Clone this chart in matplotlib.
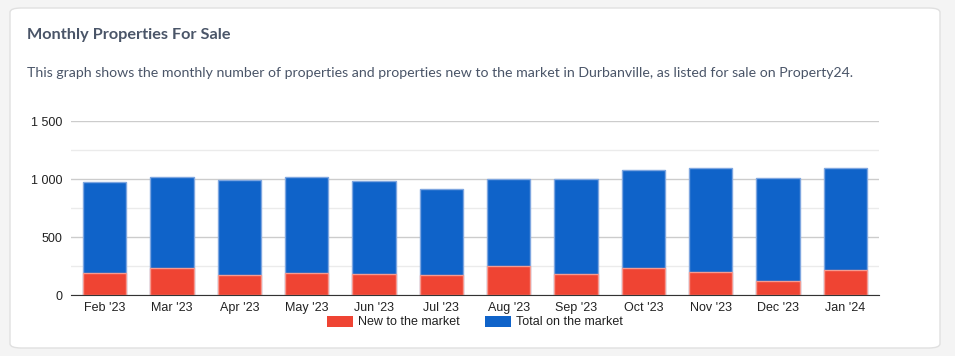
import matplotlib.pyplot as plt
from matplotlib.patches import FancyBboxPatch, Patch
from matplotlib.ticker import FixedLocator, FuncFormatter

# Data
months = ["Feb '23", "Mar '23", "Apr '23", "May '23", "Jun '23", "Jul '23",
          "Aug '23", "Sep '23", "Oct '23", "Nov '23", "Dec '23", "Jan '24"]
total_on_market = [973, 1013, 990, 1013, 982, 918, 996, 996, 1074, 1091, 1005, 1091]
new_to_market = [187, 230, 170, 193, 178, 170, 248, 178, 230, 196, 118, 213]

blue = '#0f63c9'
red = '#ef4433'
W, H = 955, 356

fig = plt.figure(figsize=(W / 100, H / 100), dpi=100)
fig.patch.set_facecolor('#f4f4f4')

# card
card = FancyBboxPatch((10 / W, 8 / H), 930 / W, 340 / H,
                      boxstyle='round,pad=0,rounding_size=0.012',
                      transform=fig.transFigure, facecolor='white',
                      edgecolor='#e0e0e0', linewidth=1, zorder=-10)
fig.patches.append(card)

fig.text(27 / W, 1 - 35 / H, 'Monthly Properties For Sale', fontsize=11.7,
         fontweight='bold', color='#4a5568', family='Lato', va='center')
fig.text(27 / W, 1 - 73 / H,
         'This graph shows the monthly number of properties and properties new to the market '
         'in Durbanville, as listed for sale on Property24.',
         fontsize=10.2, color='#4a5568', family='Lato', va='center')

ax = fig.add_axes([71 / W, 61 / H, 808 / W, 174 / H])
ax.set_facecolor('none')
x = range(len(months))
ax.bar(x, total_on_market, width=0.645, color=blue, edgecolor='#7ea6e0', linewidth=1, zorder=3)
ax.bar(x, new_to_market, width=0.645, color=red, edgecolor='#f59a90', linewidth=1, zorder=4)

ax.set_xlim(-0.5, len(months) - 0.5)
ax.set_ylim(0, 1500)
ax.yaxis.set_major_locator(FixedLocator([0, 500, 1000, 1500]))
ax.yaxis.set_minor_locator(FixedLocator([250, 750, 1250]))
ax.yaxis.set_major_formatter(FuncFormatter(lambda v, p: f'{int(v):,}'.replace(',', ' ')))
ax.grid(axis='y', which='major', color='#cccccc', linewidth=1, zorder=0)
ax.grid(axis='y', which='minor', color='#ebebeb', linewidth=1, zorder=0)
ax.set_xticks(list(x))
ax.set_xticklabels(months)
for s in ['top', 'right', 'left']:
    ax.spines[s].set_visible(False)
ax.spines['bottom'].set_color('#333333')
ax.spines['bottom'].set_zorder(5)
ax.tick_params(axis='both', which='both', length=0, labelsize=9, labelcolor='#222222',
               labelfontfamily='Liberation Sans')
ax.tick_params(axis='x', pad=5)
ax.tick_params(axis='y', pad=6)

handles = [Patch(facecolor=red, label='New to the market'),
           Patch(facecolor=blue, label='Total on the market')]
fig.legend(handles=handles, loc='center', bbox_to_anchor=(475 / W, 1 - 322 / H), ncol=2,
           frameon=False, prop={'family': 'Liberation Sans', 'size': 9},
           handlelength=2.1, handleheight=1.0, handletextpad=0.4, columnspacing=2.0,
           labelcolor='#222222')

fig.savefig('out.png', dpi=100, facecolor=fig.get_facecolor())
